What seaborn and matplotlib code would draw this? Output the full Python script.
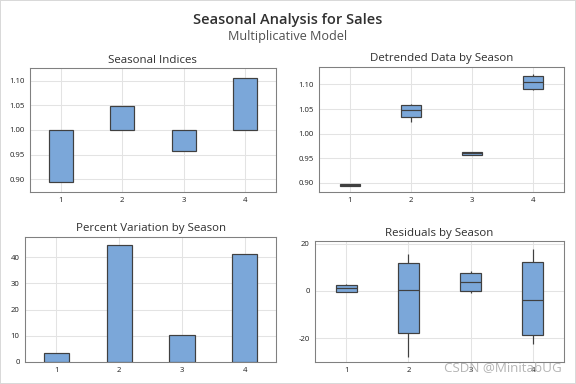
import numpy as np
import pandas as pd
import matplotlib
matplotlib.use("Agg")
import matplotlib.pyplot as plt
import seaborn as sns

seasons = ["1", "2", "3", "4"]

# seasonal indices (bars float around 1.0)
seasonal_index = [0.895, 1.048, 0.957, 1.106]

# percent variation by season
pct_variation = [3.4, 44.7, 10.3, 41.1]

# detrended data by season
detr_s1 = [0.894, 0.894, 0.8955, 0.897, 0.897]
detr_s2 = [1.0228, 1.0337, 1.048, 1.0582, 1.0602]
detr_s3 = [0.9555, 0.9555, 0.960, 0.9615, 0.9615]
detr_s4 = [1.0891, 1.0918, 1.1048, 1.117, 1.1218]

# residuals by season
resid_s1 = [-0.57, -0.43, 1.28, 2.55, 3.1]
resid_s2 = [-27.8, -17.9, 0.43, 11.8, 15.5]
resid_s3 = [-0.85, 0.0, 3.83, 7.66, 8.5]
resid_s4 = [-22.3, -18.7, -3.83, 12.3, 17.9]

fill = "#7ba7d9"
edge = "#404040"
gridc = "#e3e3e3"
spinec = "#808080"

sns.set_style("white")
plt.rcParams["font.family"] = ["Open Sans", "DejaVu Sans"]

detr = pd.DataFrame({
    "season": np.repeat(seasons, 5),
    "value": detr_s1 + detr_s2 + detr_s3 + detr_s4,
})
resid = pd.DataFrame({
    "season": np.repeat(seasons, 5),
    "value": resid_s1 + resid_s2 + resid_s3 + resid_s4,
})
pct = pd.DataFrame({"season": seasons, "pct": pct_variation})

fig = plt.figure(figsize=(6, 4), dpi=96)
fig.patch.set_facecolor("white")
fig.patch.set_edgecolor("#d9d9d9")
fig.patch.set_linewidth(1.5)

ax1 = fig.add_axes([0.052, 0.5, 0.427, 0.323])
ax2 = fig.add_axes([0.554, 0.5, 0.425, 0.326])
ax3 = fig.add_axes([0.0434, 0.0573, 0.436, 0.326])
ax4 = fig.add_axes([0.547, 0.0573, 0.432, 0.315])

# seasonal indices: floating bars from 1.0
pos = np.arange(len(seasons))
ax1.bar(pos, np.array(seasonal_index) - 1.0, bottom=1.0, width=0.39,
        color=fill, edgecolor=edge, linewidth=0.9, zorder=3)
ax1.set_ylim(0.874, 1.126)
ax1.set_yticks([0.90, 0.95, 1.00, 1.05, 1.10])
ax1.set_yticklabels(["0.90", "0.95", "1.00", "1.05", "1.10"])

box_kw = dict(width=0.33, color=fill, linecolor=edge, linewidth=0.9,
              showcaps=False, fliersize=0, saturation=1)
sns.boxplot(data=detr, x="season", y="value", order=seasons, ax=ax2, **box_kw)
ax2.set_ylim(0.881, 1.136)
ax2.set_yticks([0.90, 0.95, 1.00, 1.05, 1.10])
ax2.set_yticklabels(["0.90", "0.95", "1.00", "1.05", "1.10"])

sns.barplot(data=pct, x="season", y="pct", order=seasons, ax=ax3,
            color=fill, edgecolor=edge, linewidth=0.9, width=0.4,
            saturation=1, zorder=3)
ax3.set_ylim(0, 47.7)
ax3.set_yticks([0, 10, 20, 30, 40])

sns.boxplot(data=resid, x="season", y="value", order=seasons, ax=ax4,
            **dict(box_kw, width=0.34))
ax4.set_ylim(-30.1, 21.1)
ax4.set_yticks([-20, 0, 20])
ax4.set_yticklabels(["-20", "0", "20"])

titles = ["Seasonal Indices", "Detrended Data by Season",
          "Percent Variation by Season", "Residuals by Season"]
for ax, t in zip([ax1, ax2, ax3, ax4], titles):
    ax.set_xlim(-0.5, 3.5)
    ax.set_xticks(pos)
    ax.set_xticklabels(seasons)
    ax.set_xlabel("")
    ax.set_ylabel("")
    ax.set_title(t, fontsize=8.6, color="#303030", pad=4)
    ax.grid(True, color=gridc, linewidth=0.8)
    ax.set_axisbelow(True)
    for s in ax.spines.values():
        s.set_color(spinec)
        s.set_linewidth(0.8)
    ax.tick_params(labelsize=5.8, colors="#202020", length=2,
                   width=0.6, pad=2)
    ax.tick_params(color=spinec)

fig.text(0.5, 0.948, "Seasonal Analysis for Sales", ha="center", va="center",
         fontsize=11, fontweight="semibold", color="#303030")
fig.text(0.5, 0.904, "Multiplicative Model", ha="center", va="center",
         fontsize=9.5, color="#505050")
fig.text(0.975, 0.042, "CSDN @MinitabUG", ha="right", va="center",
         fontsize=10, color="#a8a8a8", alpha=0.85)

fig.savefig("out.png", dpi=96)
